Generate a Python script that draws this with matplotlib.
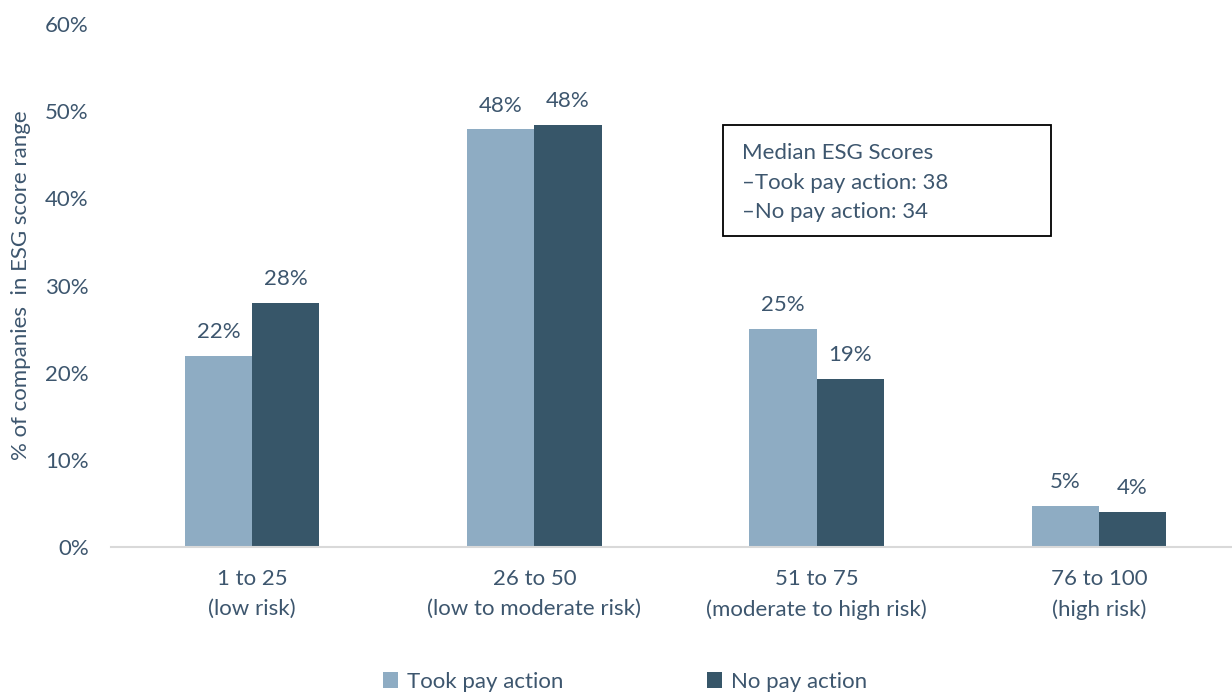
import numpy as np
import matplotlib
matplotlib.use("Agg")
from matplotlib import pyplot as plt
from matplotlib.ticker import PercentFormatter

plt.rcParams["font.family"] = ["Lato", "DejaVu Sans"]

categories = ["1 to 25\n(low risk)", "26 to 50\n(low to moderate risk)",
              "51 to 75\n(moderate to high risk)", "76 to 100\n(high risk)"]
took_pay = [21.9, 47.9, 25.0, 4.7]
no_pay = [28.0, 48.4, 19.3, 4.0]
took_labels = ["22%", "48%", "25%", "5%"]
no_labels = ["28%", "48%", "19%", "4%"]
series_names = ["Took pay action", "No pay action"]
box_lines = ["Median ESG Scores", "\u2013Took pay action: 38", "\u2013No pay action: 34"]

text_color = "#3d566e"
light = "#8eacc3"
dark = "#375669"
fs = 16

fig = plt.figure(figsize=(12.32, 6.94), dpi=100)
ax = fig.add_axes([111 / 1232, 1 - 547 / 694, 1129 / 1232, (547 - 24) / 694])

x = np.arange(len(categories))
w = 0.238
b1 = ax.bar(x - w / 2, took_pay, w, color=light, label=series_names[0])
b2 = ax.bar(x + w / 2, no_pay, w, color=dark, label=series_names[1])

for rect, lab in zip(b1, took_labels):
    ax.annotate(lab, (rect.get_x() + rect.get_width() / 2, rect.get_height()),
                xytext=(0, 10), textcoords="offset points", ha="center", va="bottom",
                fontsize=fs, color=text_color)
for rect, lab in zip(b2, no_labels):
    ax.annotate(lab, (rect.get_x() + rect.get_width() / 2, rect.get_height()),
                xytext=(0, 10), textcoords="offset points", ha="center", va="bottom",
                fontsize=fs, color=text_color)

ax.set_xlim(-0.5, 3.5)
ax.set_ylim(0, 60)
ax.set_yticks([0, 10, 20, 30, 40, 50, 60])
ax.yaxis.set_major_formatter(PercentFormatter(decimals=0))
ax.set_xticks(x)
ax.set_xticklabels(categories, fontsize=fs, color=text_color, linespacing=1.6)
ax.tick_params(axis="y", length=0, labelsize=fs, labelcolor=text_color, pad=16)
ax.tick_params(axis="x", length=0, pad=16)
for s in ["top", "right", "left"]:
    ax.spines[s].set_visible(False)
ax.spines["bottom"].set_color("#d9d9d9")
ax.spines["bottom"].set_linewidth(1.5)
ax.set_ylabel("% of companies  in ESG score range", fontsize=fs, color=text_color, labelpad=10)

ax.text(742 / 1232, 1 - 143 / 694, "\n".join(box_lines), transform=fig.transFigure,
        fontsize=fs, color=text_color, va="top", ha="left", linespacing=1.6)
fig.patches.append(plt.Rectangle((723 / 1232, 1 - 236 / 694), 328 / 1232, 111 / 694,
                                 transform=fig.transFigure, fill=False,
                                 edgecolor="black", linewidth=1.3))

fig.legend(handles=[b1, b2], loc="center", bbox_to_anchor=(625 / 1232, 1 - 682 / 694),
           ncol=2, frameon=False, fontsize=fs, labelcolor=text_color,
           handlelength=0.7, handleheight=0.7, handletextpad=0.4, columnspacing=6.45)

fig.savefig("out.png", dpi=100)
